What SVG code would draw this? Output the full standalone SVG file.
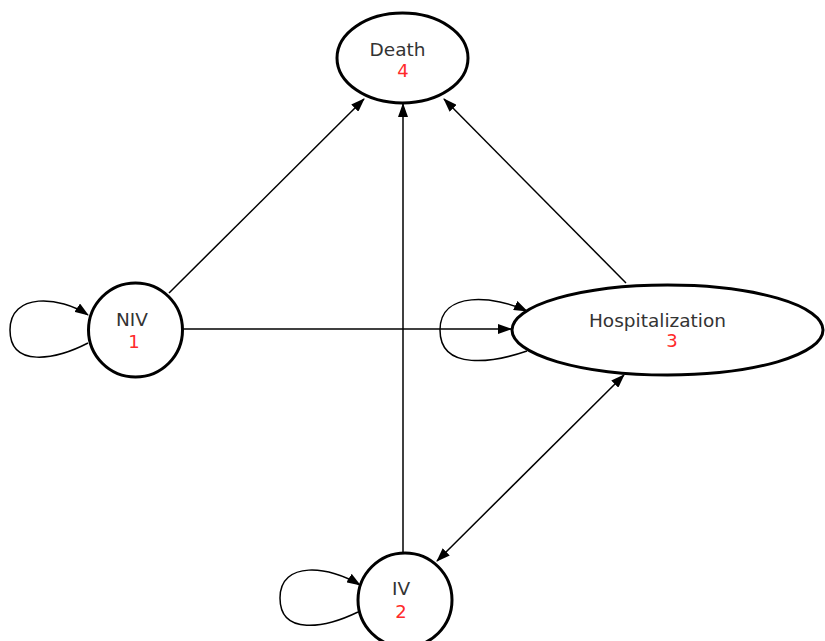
<svg xmlns="http://www.w3.org/2000/svg" width="825" height="641" viewBox="0 0 825 641">
<defs>
<marker id="ah" markerWidth="14" markerHeight="10" refX="13" refY="5" orient="auto" markerUnits="userSpaceOnUse">
<path d="M0,0 L14,5 L0,10 Z" fill="#000"/>
</marker>
<marker id="ahs" markerWidth="14" markerHeight="10" refX="1" refY="5" orient="auto" markerUnits="userSpaceOnUse">
<path d="M14,0 L0,5 L14,10 Z" fill="#000"/>
</marker>
<style>
.node{fill:#fff;stroke:#000;stroke-width:3}
.lbl{font-family:"DejaVu Sans",Arial,sans-serif;font-size:18.5px;fill:#333;text-anchor:middle}
.num{font-family:"DejaVu Sans",Arial,sans-serif;font-size:18px;fill:#ff2a2a;text-anchor:middle}
.edge{fill:none;stroke:#000;stroke-width:1.5}
</style>
</defs>
<rect width="825" height="641" fill="#fff"/>
<g id="connectors">
<path class="edge" d="M169,293 L364,99" marker-end="url(#ah)"/>
<path class="edge" d="M403,553 L403,104" marker-end="url(#ah)"/>
<path class="edge" d="M626,283 L444,99" marker-end="url(#ah)"/>
<path class="edge" d="M183,329 L511,329" marker-end="url(#ah)"/>
<path class="edge" d="M437,561 L624,375" marker-start="url(#ahs)" marker-end="url(#ah)"/>
<path class="edge" d="M88,343 C55,360 10,368 10,330 C10,292 60,296 88,315" marker-end="url(#ah)"/>
<path class="edge" d="M527,351 C495,362 440,372 440,330 C440,290 495,296 527,311" marker-end="url(#ah)"/>
<path class="edge" d="M358,612 C325,628 280,636 280,598 C280,560 330,566 360,585" marker-end="url(#ah)"/>
</g>
<g id="death">
<ellipse class="node" cx="402.5" cy="58" rx="65.5" ry="45"/>
<text class="lbl" x="397.5" y="56">Death</text>
<text class="num" x="403" y="77">4</text>
</g>
<g id="niv">
<circle class="node" cx="135.5" cy="330" r="47"/>
<text class="lbl" x="132" y="326">NIV</text>
<text class="num" x="134" y="348">1</text>
</g>
<g id="hospitalization">
<ellipse class="node" cx="667.5" cy="330" rx="155.5" ry="45"/>
<text class="lbl" x="657.5" y="327">Hospitalization</text>
<text class="num" x="672" y="347">3</text>
</g>
<g id="iv">
<circle class="node" cx="405" cy="600" r="47"/>
<text class="lbl" x="401" y="595">IV</text>
<text class="num" x="401" y="618">2</text>
</g>
</svg>
